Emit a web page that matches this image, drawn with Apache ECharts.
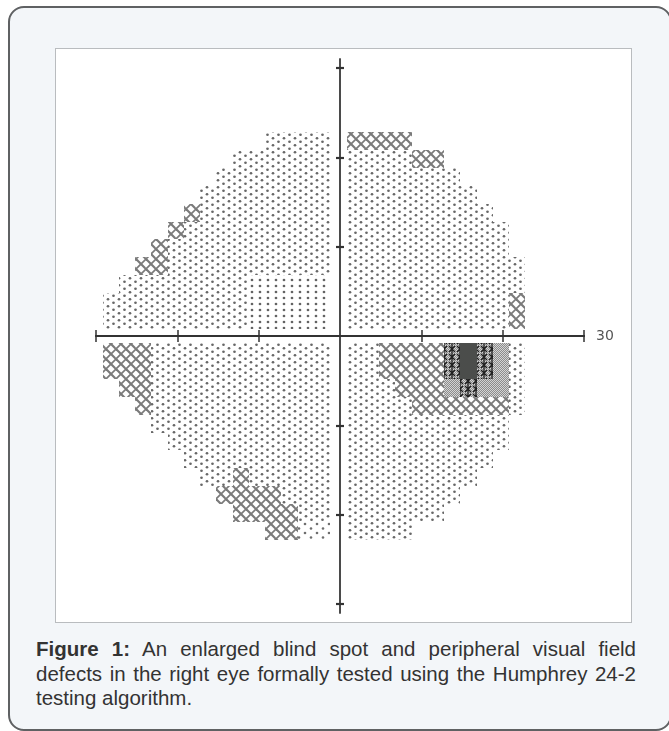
<!DOCTYPE html>
<html lang="en">
<head>
    <meta charset="UTF-8">
    <title>Figure 1 - visual field greyscale</title>
    <script src="https://cdn.jsdelivr.net/npm/echarts@6.0.0/dist/echarts.min.js"></script>
    <style>
        body{
            margin: 0;
            background: #fff;
            width: 669px;
            height: 731px;
            overflow: hidden;
            font-family: "Liberation Sans", Arial, sans-serif;
        }
        .card{
            position: absolute;
            left: 8px;
            top: 6px;
            width: 660px;
            height: 721px;
            border: 2px solid #5f6163;
            border-radius: 16px;
            background: #f3f6f9;
        }
        .panel{
            position: absolute;
            left: 55px;
            top: 48px;
            width: 575px;
            height: 573px;
            border: 1px solid #b9bcbf;
            background: #fff;
        }
        #main{
            width: 575px;
            height: 573px;
        }
        .caption{
            position: absolute;
            left: 36px;
            top: 637px;
            width: 600px;
            font-size: 20.5px;
            line-height: 24.5px;
            color: #333;
        }
        .caption div{
            white-space: nowrap;
            text-align: justify;
            text-align-last: justify;
        }
        .caption div.last{
            text-align-last: left;
        }
    </style>
</head>
<body>
<div class="card"></div>
<div class="panel"><div id="main"></div></div>
<div class="caption">
    <div><b>Figure 1:</b> An enlarged blind spot and peripheral visual field</div>
    <div>defects in the right eye formally tested using the Humphrey 24-2</div>
    <div class="last">testing algorithm.</div>
</div>
<script>
    // greyscale symbols, one per 2 degree cell
    // 0 blank, 1 sparse dots, 2 dots, 3 grid dots, 4 crosshatch, 5 fine grey, 6 stars, 7 black
    // columns: 14 nasal (left of 0) then 12 temporal
    var upperRows = [
        "00000000002222444400000000",
        "00000000222222222244000000",
        "00000002222222222222200000",
        "00000022222222222222220000",
        "00000422222222222222222000",
        "00004222222222222222222200",
        "00042222222222222222222200",
        "00442222222222222222222220",
        "02222222233333222222222220",
        "22222222233333222222222240",
        "22222222233333222222222240"
    ];
    var lowerRows = [
        "44422222222222224444676520",
        "44422222222222224444676520",
        "04422222222222222444565520",
        "00422222222222222244444420",
        "00022222222222222222222200",
        "00002222222222222222222200",
        "00000222222222222222222000",
        "00000022422222222222220000",
        "00000004444222222222200000",
        "00000000444422222222000000",
        "00000000004411222200000000"
    ];
    var tickValues = [-30, -20, -10, 10, 20, 30];

    var cell = 2, gapLeft = 1.2, gapRight = 0.8, gapV = 0.8;

    function tile(w, h, draw){
        var c = document.createElement('canvas');
        c.width = w; c.height = h;
        draw(c.getContext('2d'));
        return {image: c, repeat: 'repeat'};
    }
    function dots(ctx, pts, r, col){
        ctx.fillStyle = col;
        pts.forEach(function (p) {
            ctx.beginPath();
            ctx.arc(p[0], p[1], r, 0, Math.PI * 2);
            ctx.fill();
        });
    }
    function checker(ctx, w, h){
        ctx.fillStyle = '#d4d4d4';
        ctx.fillRect(0, 0, w, h);
        ctx.fillStyle = '#8c8c8c';
        for (var y = 0; y < h; y++){
            for (var x = (y % 2); x < w; x += 2){
                ctx.fillRect(x, y, 1, 1);
            }
        }
    }
    var fills = {
        1: tile(12, 9, function (ctx) { dots(ctx, [[3, 2.5], [9, 7]], 1.3, '#6e6e6e'); }),
        2: tile(11, 7, function (ctx) { dots(ctx, [[2.5, 1.75], [8, 5.25]], 1.35, '#676767'); }),
        3: tile(8, 6, function (ctx) { dots(ctx, [[4, 3]], 1.35, '#636363'); }),
        4: tile(10, 10, function (ctx) {
            ctx.strokeStyle = '#7a7a7a';
            ctx.lineWidth = 2.2;
            [-10, 0, 10].forEach(function (o) {
                ctx.beginPath(); ctx.moveTo(o, 0); ctx.lineTo(o + 10, 10); ctx.stroke();
            });
            ctx.lineWidth = 1.7;
            [-10, 0, 10].forEach(function (o) {
                ctx.beginPath(); ctx.moveTo(o, 10); ctx.lineTo(o + 10, 0); ctx.stroke();
            });
        }),
        5: tile(2, 2, function (ctx) { checker(ctx, 2, 2); }),
        6: tile(8, 8, function (ctx) {
            checker(ctx, 8, 8);
            ctx.strokeStyle = '#1e1e1e';
            ctx.lineWidth = 1.3;
            ctx.beginPath();
            ctx.moveTo(1, 1); ctx.lineTo(7, 7);
            ctx.moveTo(7, 1); ctx.lineTo(1, 7);
            ctx.moveTo(4, 0); ctx.lineTo(4, 8);
            ctx.stroke();
        }),
        7: '#4b4d4b'
    };

    // cell edges in degrees
    function colRange(j){
        if (j < 14){
            var k = 14 - j;
            return [-(gapLeft + cell * k), -(gapLeft + cell * (k - 1))];
        }
        var m = j - 13;
        return [gapRight + cell * (m - 1), gapRight + cell * m];
    }
    function rowRange(i){
        if (i < 11){
            var k = 11 - i;
            return [gapV + cell * (k - 1), gapV + cell * k];
        }
        var m = i - 10;
        return [-(gapV + cell * m), -(gapV + cell * (m - 1))];
    }

    var allRows = upperRows.concat(lowerRows);
    var cells = [];
    for (var i = 0; i < allRows.length; i++){
        for (var j = 0; j < allRows[i].length; j++){
            var lvl = Number(allRows[i][j]);
            if (lvl > 0) cells.push([j, i, lvl]);
        }
    }

    var chart = echarts.init(document.getElementById('main'));
    var xCommon = {
        type: 'value', min: -30, max: 30, interval: 10,
        axisLine: {onZero: true, lineStyle: {color: '#333', width: 2}},
        axisTick: {show: true, customValues: tickValues, length: 6, lineStyle: {color: '#333', width: 1.5}},
        axisLabel: {show: false},
        splitLine: {show: false}
    };
    var yCommon = {
        type: 'value', min: -31, max: 31,
        axisLine: {onZero: true, lineStyle: {color: '#444', width: 1.6}},
        axisTick: {show: true, customValues: tickValues, length: 4, lineStyle: {color: '#333', width: 2.2}},
        axisLabel: {show: false},
        splitLine: {show: false}
    };
    var option = {
        animation: false,
        grid: {left: 40, top: 10, width: 488, height: 554},
        xAxis: [
            Object.assign({}, xCommon, {
                position: 'bottom',
                name: '30', nameLocation: 'end', nameGap: 12,
                nameTextStyle: {color: '#555', fontSize: 14, fontFamily: 'DejaVu Sans'}
            }),
            Object.assign({}, xCommon, {position: 'top'})
        ],
        yAxis: [
            Object.assign({}, yCommon, {position: 'left'}),
            Object.assign({}, yCommon, {position: 'right'})
        ],
        series: [{
            type: 'custom',
            coordinateSystem: 'cartesian2d',
            xAxisIndex: 0,
            yAxisIndex: 0,
            z: 1,
            silent: true,
            data: cells,
            renderItem: function (params, api) {
                var xr = colRange(api.value(0));
                var yr = rowRange(api.value(1));
                var p0 = api.coord([xr[0], yr[1]]);
                var p1 = api.coord([xr[1], yr[0]]);
                var x0 = Math.round(p0[0]), y0 = Math.round(p0[1]);
                return {
                    type: 'rect',
                    shape: {x: x0, y: y0, width: Math.round(p1[0]) - x0, height: Math.round(p1[1]) - y0},
                    style: {fill: fills[api.value(2)]}
                };
            }
        }]
    };
    chart.setOption(option);
</script>
</body>
</html>
